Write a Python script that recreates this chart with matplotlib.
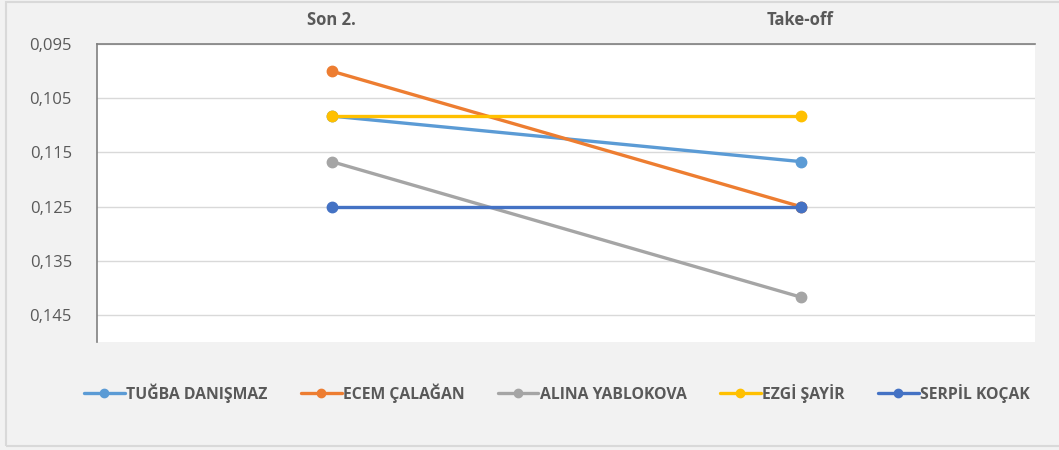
import matplotlib
matplotlib.use('Agg')
import matplotlib.pyplot as plt
from matplotlib.patches import Rectangle
from matplotlib.ticker import FuncFormatter

plt.rcParams['font.family'] = ['Open Sans', 'DejaVu Sans']

categories = ['Son 2.', 'Take-off']
names = ['TUĞBA DANIŞMAZ', 'ECEM ÇALAĞAN', 'ALINA YABLOKOVA', 'EZGİ ŞAYİR', 'SERPİL KOÇAK']
tugba = [0.1083, 0.1167]
ecem = [0.1000, 0.1250]
alina = [0.1167, 0.1417]
ezgi = [0.1083, 0.1083]
serpil = [0.1250, 0.1250]
series = [tugba, ecem, alina, ezgi, serpil]
colors = ['#5b9bd5', '#ed7d31', '#a5a5a5', '#ffc000', '#4472c4']
yticks = [0.095, 0.105, 0.115, 0.125, 0.135, 0.145]

W, H = 1059, 450
fig = plt.figure(figsize=(W / 100, H / 100), dpi=100)
fig.patch.set_facecolor('#f2f2f2')
# light frame round the chart area (right edge falls outside the picture)
fig.patches.append(Rectangle((6 / W, 4 / H), 1.2, 1 - 6 / H, transform=fig.transFigure,
                             fill=False, edgecolor='#d9d9d9', lw=1.5))

ax = fig.add_axes([97 / W, 1 - 342 / H, (1035 - 97) / W, (342 - 44) / H])
ax.set_facecolor('white')

x = list(range(len(categories)))
for name, vals, c in zip(names, series, colors):
    ax.plot(x, vals, '-o', color=c, lw=2.4, ms=7.5, label=name, solid_capstyle='round')

ax.set_xlim(-0.5, 1.5)
ax.set_ylim(0.1500, 0.095)  # reversed value axis
ax.set_yticks(yticks)
ax.yaxis.set_major_formatter(FuncFormatter(lambda v, p: f'{v:.3f}'.replace('.', ',')))
ax.grid(axis='y', color='#d9d9d9', lw=1)
ax.set_axisbelow(True)
ax.xaxis.tick_top()
ax.set_xticks(x)
ax.set_xticklabels(categories, fontweight='bold', fontsize=12, color='#595959')
ax.tick_params(axis='x', length=0, pad=11)
ax.tick_params(axis='y', length=0, pad=18, labelsize=12, labelcolor='#595959')
for s in ['right', 'bottom']:
    ax.spines[s].set_visible(False)
for s in ['top', 'left']:
    ax.spines[s].set_color('#808080')
    ax.spines[s].set_linewidth(1.2)

leg = fig.legend(loc='center', bbox_to_anchor=(557 / W, 1 - 393 / H), ncol=5, frameon=False,
                 handlelength=2.6, handletextpad=0.1, columnspacing=2.1, markerscale=0.8,
                 prop={'weight': 'bold', 'size': 11.3})
for t in leg.get_texts():
    t.set_color('#595959')

fig.savefig('out.png', dpi=100, facecolor=fig.get_facecolor())
